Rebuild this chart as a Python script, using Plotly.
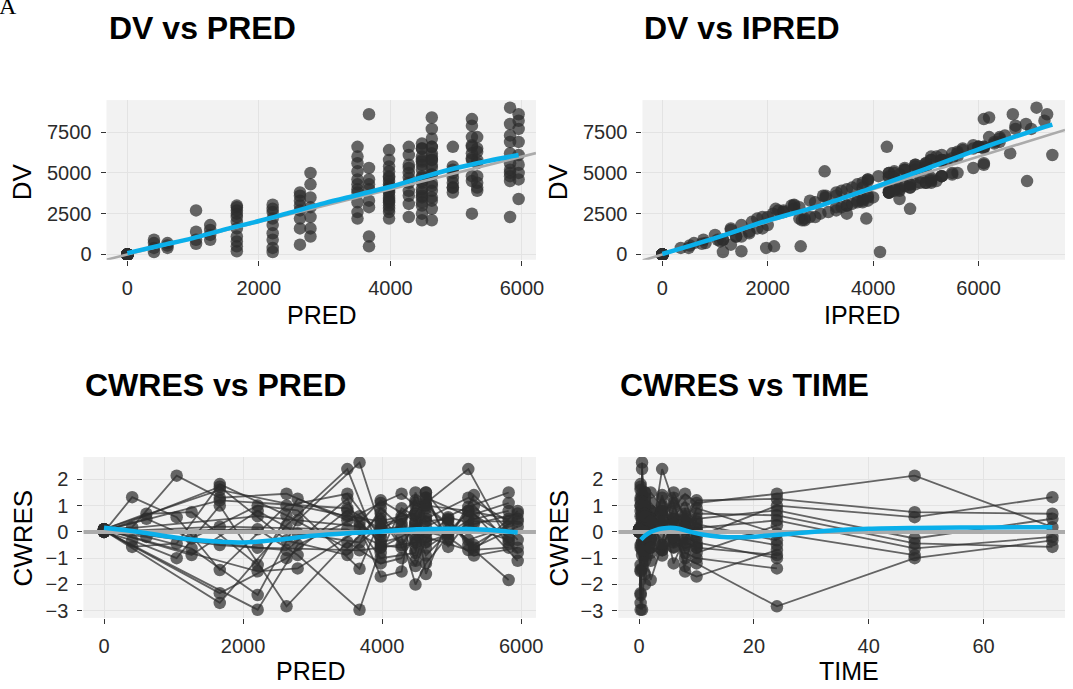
import plotly.graph_objects as go

# ---------------- data ----------------
TIMES = [0, 0.25, 0.5, 1, 2, 4, 6, 8, 10, 24, 48, 72]
GROUP = ["A"] * 8 + ["B"] * 7 + ["A", "A", "A", "B", "B"]
PRED_A = [0, 1665, 3500, 4480, 5820, 5240, 4630, 4280, 3980, 2625, 1045, 405]
PRED_B = [0, 2210, 3675, 4630, 5950, 5320, 4950, 4480, 3980, 2785, 1260, 610]

N = None
DV = [
    [0, 2300, 3800, 6000, 5600, 4800, 5800, 6600, 5800, 3800, 2700, 700],
    [0, 800, 6000, 3000, 9000, 7200, 4900, 5000, 3800, 3600, 1400, 900],
    [0, 3000, 2600, 4800, 4800, 8300, 6200, 3900, 5100, 3300, 900, 150],
    [0, 200, 6600, 5500, 7300, 5800, 3500, 6100, 3000, 3000, N, N],
    [0, 2700, 2200, 3500, 2300, 4500, 7100, 5500, 4500, 2700, N, N],
    [0, 1100, 5100, 6800, 6200, 7900, 5500, 2300, 2200, 2200, N, N],
    [0, 500, 4600, 2100, 5000, 6700, 2800, 4400, 3600, 1600, N, N],
    [0, 2000, 3200, 4500, 4500, 2500, 3900, 3100, 2600, 600, 650, 400],
    [0, 1300, 4600, 7700, 5500, 7200, 4100, 5200, 6400, 5000, 1800, 700],
    [0, 3050, 1100, 4400, 8200, 5600, 6600, 2500, 4800, 4300, 1500, 550],
    [0, 400, 8600, 2100, 6100, 4400, 5200, 5800, 4300, 3500, 1200, 400],
    [0, 2800, 3300, 8400, 3400, 6300, 3800, 4000, 5400, 2900, 900, N],
    [0, 150, 5300, 5300, 8600, 4100, 5400, 6500, 4100, 2300, N, N],
    [0, 2200, 500, 3300, 4600, 6500, 4400, 4400, 3400, 1600, N, N],
    [0, 900, 4000, 6600, 7700, 4800, 5000, 3200, 2800, 1100, N, N],
    [0, 2500, 5600, 6500, 6900, 6600, 6000, 4700, 4100, N, N, N],
    [0, 1600, 4000, 3800, 5200, 5900, 4200, 3600, 3300, N, N, N],
    [0, 2900, 4300, 5700, 8000, 6200, 6600, 5300, 4700, N, N, N],
    [0, 2600, 4300, 5800, 6900, 5800, 4700, 4700, 3900, N, N, N],
    [0, 1800, 2900, 4900, 5000, 3900, 4100, 3600, 3200, N, N, N],
]
IPRED = [
    [0, 1900, 4300, 5200, 6100, 4300, 5100, 6100, 5300, 4300, 2300, 820],
    [0, 1100, 5100, 3500, 7100, 6400, 5500, 4300, 3300, 3050, 1650, 780],
    [0, 2450, 3150, 5300, 4100, 6100, 5500, 4500, 4400, 2800, 1150, 1150],
    [0, 1500, 6100, 4800, 6500, 5100, 3100, 5300, 3500, 2500, N, N],
    [0, 2200, 2700, 4000, 2900, 6920, 6400, 5000, 3900, 3300, N, N],
    [0, 1400, 3080, 6300, 5600, 6700, 4800, 2800, 3870, 2600, N, N],
    [0, 2120, 3900, 2650, 5600, 5900, 4700, 4900, 3100, 1300, N, N],
    [0, 1700, 3700, 5100, 5200, 3500, 3400, 3600, 2300, 1300, 750, 500],
    [0, 1650, 3900, 6700, 6100, 6200, 4700, 4600, 5700, 4300, 1500, 600],
    [0, 2500, 1500, 5000, 7250, 5000, 4260, 3000, 5300, 3700, 1300, 520],
    [0, 1970, 6650, 2700, 7400, 5100, 4600, 5300, 4800, 3900, 1000, 350],
    [0, 2150, 3800, 6200, 4500, 5600, 4300, 3500, 4800, 3400, 1050, N],
    [0, 4130, 4600, 5900, 7300, 4700, 5000, 5900, 3600, 2000, N, N],
    [0, 1800, 2625, 3900, 5100, 5700, 5000, 3800, 3800, 1900, N, N],
    [0, 1150, 4500, 6000, 7000, 5300, 4400, 3800, 2500, 1400, N, N],
    [0, 2100, 5000, 6100, 6300, 6000, 5600, 4900, 4500, N, N, N],
    [0, 1800, 4400, 4300, 4800, 5500, 4600, 3300, 3700, N, N, N],
    [0, 2600, 4700, 5300, 6900, 6600, 6000, 5000, 4300, N, N, N],
    [0, 2300, 4700, 5300, 6400, 5400, 5100, 4400, 4300, N, N, N],
    [0, 2000, 3300, 4500, 5500, 4400, 3800, 3900, 2900, N, N, N],
]
CWRES = [
    [0.05, 1.3, 0.44, 1.0, 0.2, -0.3, 0.9, 1.45, 1.1, 1.45, 2.14, 0.18],
    [0.0, -1.45, 1.45, -1.1, 1.5, 0.95, 0.2, 0.3, -0.2, 1.0, 0.56, 1.32],
    [0.1, 1.82, -0.63, 0.3, -0.4, 2.39, 1.1, -0.5, 0.7, 0.63, -0.44, -0.57],
    [0.05, -2.7, 2.39, 0.6, 0.8, 0.44, -0.6, 0.9, -0.8, 0.25, N, N],
    [0.0, 1.72, -0.88, -0.7, -1.83, -0.5, 1.5, 0.5, 0.3, -0.32, N, N],
    [0.1, -0.5, 1.26, 1.5, 0.4, 1.3, 0.5, -1.51, -1.7, -0.69, N, N],
    [0.05, -2.33, 0.82, -2.0, -0.2, 0.8, -1.2, -0.2, -0.4, -1.0, N, N],
    [0.0, 1.0, -0.38, -0.1, -0.6, -0.69, -0.2, -1.0, -1.2, -2.83, -1.0, -0.32],
    [0.1, -1.26, 0.35, 1.3, -0.3, 1.4, -0.3, 0.4, 1.2, 1.26, 0.75, 0.69],
    [0.05, 1.0, -1.4, -0.3, 0.7, 0.3, 0.56, -1.3, 0.5, 0.82, -0.25, 0.5],
    [0.0, -2.4, 2.64, -1.6, 0.2, -0.6, 0.45, 0.7, 0.15, 0.44, -0.63, -0.19],
    [0.1, 0.8, -0.4, 1.5, -1.1, 0.7, -0.57, -0.3, 0.9, -0.06, -0.88, N],
    [0.05, -2.96, 0.6, 0.4, 0.8, -0.7, 0.5, 1.2, 0.0, -0.5, N, N],
    [0.0, 0.1, -2.96, -0.9, -0.8, 1.0, 0.0, 0.1, -0.6, -0.88, N, N],
    [0.1, -1.5, 0.1, 1.0, 0.5, -0.5, 0.3, -0.8, -1.0, -1.39, N, N],
    [0.05, 1.2, 0.9, 1.1, 0.5, 0.8, 1.0, 0.2, 0.1, N, N, N],
    [0.0, 0.2, 0.1, -0.4, -0.3, 0.2, -0.4, -0.6, -0.5, N, N, N],
    [0.1, 1.6, 0.6, 0.7, 1.1, 0.6, 1.3, 0.6, 0.4, N, N, N],
    [0.05, 0.6, 0.2, 0.6, 0.4, 0.4, -0.1, 0.2, -0.1, N, N, N],
    [0.1, -0.6, -0.7, 0.0, -0.6, -0.9, -0.2, -0.4, -0.6, N, N, N],
]

# smoother curves (read along the blue lines of the picture)
SM1_X = [0, 500, 1000, 1500, 2000, 2500, 3000, 3500, 4000, 4500, 5000, 5500, 5950]
SM1_Y = [80, 550, 1000, 1550, 2050, 2600, 3150, 3650, 4150, 4750, 5300, 5750, 6100]
SM2_X = [0, 1000, 2000, 3000, 4000, 5000, 6000, 7000, 7400]
SM2_Y = [30, 1000, 2080, 3000, 4100, 5250, 6450, 7550, 7960]
SM3_X = [0, 500, 1000, 1500, 2000, 2500, 3000, 3500, 4000, 4500, 5000, 5500, 5950]
SM3_Y = [0.16, 0.0, -0.2, -0.35, -0.4, -0.3, -0.15, -0.05, 0.02, 0.1, 0.12, 0.08, -0.02]
SM4_X = [0.3, 1, 2, 3, 4, 5.5, 7, 9, 11, 14, 18, 22, 26, 30, 35, 40, 48, 60, 72]
SM4_Y = [-0.3, -0.15, 0.0, 0.08, 0.13, 0.16, 0.12, 0.0, -0.1, -0.18, -0.2, -0.15, -0.08, 0.0, 0.07, 0.12, 0.15, 0.17, 0.18]

TITLES = ["DV vs PRED", "DV vs IPRED", "CWRES vs PRED", "CWRES vs TIME"]

# ---------------- layout geometry (pixels) ----------------
W, H = 1073, 689
FONT = "Liberation Sans, Arial, Helvetica, sans-serif"
PT_COL = "rgba(45,45,45,0.72)"
LN_COL = "rgba(45,45,45,0.72)"
BLUE = "#0AAFEA"
GREY = "#ABABAB"


def fx(p):
    return p / W


def fy(p):
    return 1 - p / H


# build long records
rec = []
for s in range(len(DV)):
    pred_row = PRED_A if GROUP[s] == "A" else PRED_B
    for j, t in enumerate(TIMES):
        if DV[s][j] is None:
            continue
        rec.append(dict(ID=s + 1, TIME=t, PRED=pred_row[j], IPRED=IPRED[s][j],
                        DV=DV[s][j], CWRES=CWRES[s][j]))

fig = go.Figure()

ranges = {
    1: dict(x=[-317, 6214], y=[-322, 9465]),
    2: dict(x=[-377, 7640], y=[-322, 9465]),
    3: dict(x=[-297, 6213], y=[-3.27, 2.85]),
    4: dict(x=[-3.63, 74.2], y=[-3.27, 2.85]),
}


def ax(i):
    return ("x" if i == 1 else f"x{i}"), ("y" if i == 1 else f"y{i}")


# connecting lines per subject (panels 3 & 4)
ids = sorted(set(r["ID"] for r in rec))
for i in ids:
    sub = [r for r in rec if r["ID"] == i]
    s3 = sorted(sub, key=lambda r: r["PRED"])
    xa, ya = ax(3)
    fig.add_trace(go.Scatter(x=[r["PRED"] for r in s3], y=[r["CWRES"] for r in s3],
                             mode="lines", line=dict(color=LN_COL, width=1.8),
                             xaxis=xa, yaxis=ya, hoverinfo="skip"))
    s4 = sorted(sub, key=lambda r: r["TIME"])
    xa, ya = ax(4)
    fig.add_trace(go.Scatter(x=[r["TIME"] for r in s4], y=[r["CWRES"] for r in s4],
                             mode="lines", line=dict(color=LN_COL, width=1.8),
                             xaxis=xa, yaxis=ya, hoverinfo="skip"))

panels = [
    (1, "PRED", "DV", SM1_X, SM1_Y),
    (2, "IPRED", "DV", SM2_X, SM2_Y),
    (3, "PRED", "CWRES", SM3_X, SM3_Y),
    (4, "TIME", "CWRES", SM4_X, SM4_Y),
]
for i, xk, yk, sx, sy in panels:
    xa, ya = ax(i)
    fig.add_trace(go.Scatter(x=[r[xk] for r in rec], y=[r[yk] for r in rec], mode="markers",
                             marker=dict(size=12.5, color=PT_COL, line=dict(width=0)),
                             xaxis=xa, yaxis=ya))
    lo, hi = ranges[i]["x"]
    if i <= 2:
        ref_x, ref_y = [lo, hi], [lo, hi]
        gw = 2.6
    else:
        ref_x, ref_y = [lo, hi], [0, 0]
        gw = 4
    fig.add_trace(go.Scatter(x=ref_x, y=ref_y, mode="lines", line=dict(color=GREY, width=gw),
                             xaxis=xa, yaxis=ya, hoverinfo="skip"))
    fig.add_trace(go.Scatter(x=sx, y=sy, mode="lines", line=dict(color=BLUE, width=4.5, shape="spline"),
                             xaxis=xa, yaxis=ya, hoverinfo="skip"))

dom = {
    1: dict(x=[107.3, 540], y=[101, 262]),
    2: dict(x=[647.3, 1073], y=[101, 262]),
    3: dict(x=[84, 540], y=[461, 623.3]),
    4: dict(x=[623, 1073], y=[461, 623.3]),
}
ticks = {
    1: dict(x=[0, 2000, 4000, 6000], y=[0, 2500, 5000, 7500]),
    2: dict(x=[0, 2000, 4000, 6000], y=[0, 2500, 5000, 7500]),
    3: dict(x=[0, 2000, 4000, 6000], y=[-3, -2, -1, 0, 1, 2]),
    4: dict(x=[0, 20, 40, 60], y=[-3, -2, -1, 0, 1, 2]),
}
axstyle = dict(showgrid=True, gridcolor="#E3E3E3", gridwidth=1, zeroline=False, showline=False,
               ticks="outside", ticklen=5, tickwidth=1.2, tickcolor="#333333",
               tickfont=dict(family=FONT, size=20, color="#2b2b2b"), ticklabelstandoff=5)
lay = {}
for i in range(1, 5):
    xn = "xaxis" if i == 1 else f"xaxis{i}"
    yn = "yaxis" if i == 1 else f"yaxis{i}"
    xa, ya = ax(i)
    d = dom[i]
    lay[xn] = dict(axstyle, domain=[fx(d["x"][0]), fx(d["x"][1])], range=ranges[i]["x"],
                   tickvals=ticks[i]["x"], anchor=ya)
    lay[yn] = dict(axstyle, domain=[fy(d["y"][1]), fy(d["y"][0])], range=ranges[i]["y"],
                   tickvals=ticks[i]["y"], anchor=xa)
fig.update_layout(**lay)

ann = []
# subplot titles
for (px, py), txt in zip([(107.3, 28), (647.3, 28), (84, 388), (623, 388)], TITLES):
    ann.append(dict(x=fx(px), y=fy(py), xref="paper", yref="paper", xanchor="left", yanchor="middle",
                    text=f"<b>{txt}</b>", showarrow=False,
                    font=dict(family=FONT, size=32, color="black")))
# axis titles
for px, py, txt in [(323.7, 317.5, "PRED"), (868.5, 317.5, "IPRED"), (313, 677, "PRED"), (855.5, 677, "TIME")]:
    ann.append(dict(x=fx(px), y=fy(py), xref="paper", yref="paper", xanchor="center", yanchor="middle",
                    text=txt, showarrow=False, font=dict(family=FONT, size=25, color="black")))
for px, py, txt in [(23, 183, "DV"), (563, 183, "DV"), (23, 542.5, "CWRES"), (563, 542.5, "CWRES")]:
    ann.append(dict(x=fx(px), y=fy(py), xref="paper", yref="paper", xanchor="center", yanchor="middle",
                    text=txt, textangle=-90, showarrow=False, font=dict(family=FONT, size=26, color="black")))
# panel tag (partly cut off at the top edge, as in the reference)
ann.append(dict(x=fx(-3), y=fy(21), xref="paper", yref="paper", xanchor="left", yanchor="bottom",
                text="A", showarrow=False, font=dict(family="Liberation Serif, Times New Roman, serif", size=24, color="black")))

fig.update_layout(width=W, height=H, margin=dict(l=0, r=0, t=0, b=0),
                  paper_bgcolor="white", plot_bgcolor="#F2F2F2", showlegend=False,
                  annotations=ann, font=dict(family=FONT))

fig.write_html("out.html", config={"displayModeBar": False},
               post_script="document.body.style.margin='0px';document.body.style.overflow='hidden';")
